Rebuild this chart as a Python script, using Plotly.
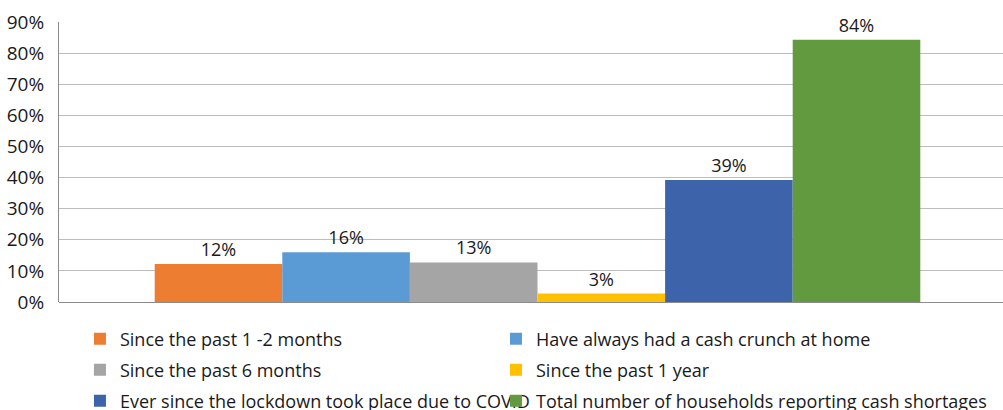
import plotly.graph_objects as go

series_names = [
    "Since the past 1 -2 months",
    "Have always had a cash crunch at home",
    "Since the past 6 months",
    "Since the past 1 year",
    "Ever since the lockdown took place due to COVID",
    "Total number of households reporting cash shortages",
]
series_values = [0.122, 0.16, 0.127, 0.027, 0.392, 0.843]
series_colors = ["#ED7D31", "#5B9BD5", "#A5A5A5", "#FFC000", "#3D64AB", "#629B3F"]
y_tick_values = [0, 0.1, 0.2, 0.3, 0.4, 0.5, 0.6, 0.7, 0.8, 0.9]

FONT = "Open Sans"
legend_ids = ["legend", "legend2", "legend3", "legend4", "legend5", "legend6"]
legend_x = [0.0222, 0.4629]
legend_y = [-0.132, -0.243, -0.354]

fig = go.Figure()
for name, val, col, lg in zip(series_names, series_values, series_colors, legend_ids):
    fig.add_trace(go.Bar(
        x=[0], y=[val], name=name, marker=dict(color=col, line=dict(width=0)),
        texttemplate="%{y:.0%}", textposition="outside", cliponaxis=False,
        textfont=dict(family=FONT, size=18, color="#1a1a1a"),
        legend=lg,
    ))

def legend_cfg(i):
    return dict(
        orientation="h", x=legend_x[i % 2], xanchor="left",
        y=legend_y[i // 2], yanchor="middle",
        font=dict(family=FONT, size=18, color="#1a1a1a"),
        itemclick=False, bgcolor="rgba(0,0,0,0)",
    )

legends = {("legend" if i == 0 else f"legend{i+1}"): legend_cfg(i) for i in range(6)}

fig.update_layout(
    width=1003, height=410,
    margin=dict(l=59, r=0, t=22, b=108, autoexpand=False),
    paper_bgcolor="white", plot_bgcolor="white",
    barmode="group", bargap=0.2, bargroupgap=0,
    showlegend=True,
    **legends,
    xaxis=dict(range=[-0.5, -0.5 + 944 / 957], showticklabels=False, showgrid=False,
               zeroline=False, showline=False, fixedrange=True, automargin=False),
    yaxis=dict(range=[0, 0.9], tickvals=y_tick_values, tickformat=".0%",
               showgrid=True, gridcolor="#BDBDBD", gridwidth=1,
               zeroline=True, zerolinecolor="#8C8C8C", zerolinewidth=1,
               showline=True, linecolor="#8C8C8C", linewidth=1,
               ticklabelstandoff=10, automargin=False,
               tickfont=dict(family=FONT, size=19, color="#1a1a1a")),
)

fig.write_html("out.html", config={"displayModeBar": False},
               post_script="document.body.style.margin='0';")
